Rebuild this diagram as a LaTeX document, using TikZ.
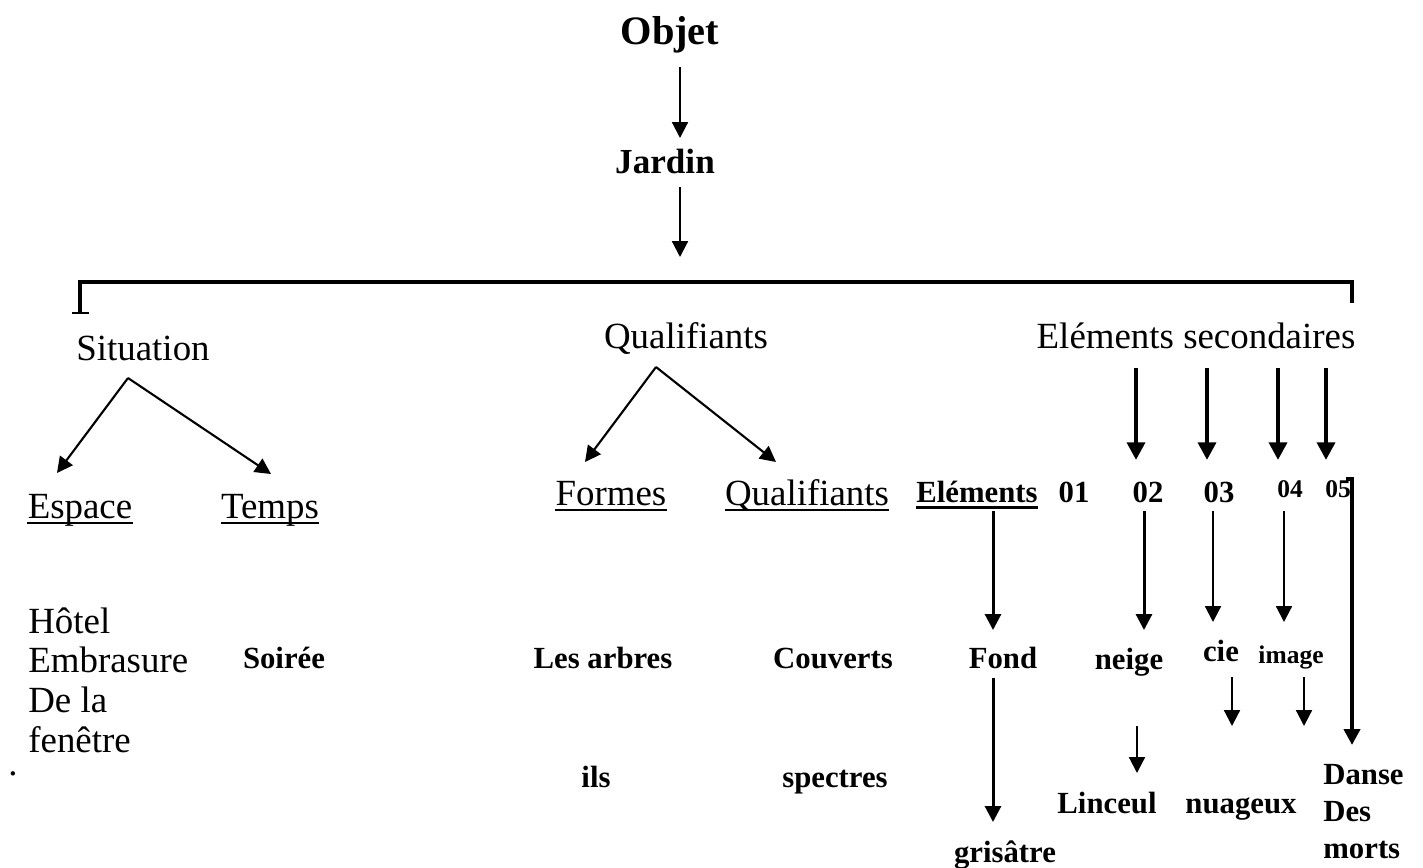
\documentclass[tikz,border=0pt]{standalone}
\usepackage{fontspec}
\setmainfont{Liberation Serif}
\usetikzlibrary{arrows.meta,calc}

\tikzset{
  txt/.style={inner sep=0pt, anchor=base, font=\fontsize{21}{25}\selectfont},
  btxt/.style={inner sep=0pt, anchor=base, font=\fontsize{17.5}{21}\selectfont\bfseries},
  stxt/.style={inner sep=0pt, anchor=base, font=\fontsize{14.5}{17}\selectfont\bfseries},
  arr/.style={->, line width=1.2pt},
  arrmid/.style={->, line width=1.7pt},
  arrbold/.style={->, >={Triangle[length=10pt, width=10pt]}, line width=2.5pt},
  uline/.style={line width=0.9pt}
}

\begin{document}
\begin{tikzpicture}[x=0.02cm, y=-0.02cm, >={Triangle[length=9pt, width=9pt]}]
            \useasboundingbox (0,0) rectangle (1423,867);

            % top of the tree
            \node[btxt, font=\fontsize{23}{27}\selectfont\bfseries] (objet) at (670,44) {Objet};
            \node[btxt, font=\fontsize{20}{24}\selectfont\bfseries] (jardin) at (665,173) {Jardin};
            \coordinate (brl) at (80,282);
            \coordinate (brr) at (1352,282);

            % three branches
            \node[txt] (situation) at (143,360) {Situation};
            \node[txt] (qualif) at (686,348) {Qualifiants};
            \node[txt] (secondaires) at (1196,348) {Eléments secondaires};

            \node[txt] (espace) at (80,518) {Espace};
            \node[txt] (temps) at (270,518) {Temps};
            \node[txt] (formes) at (611,505) {Formes};
            \node[txt] (qualifs) at (807,505) {Qualifiants};
            \node[btxt] (elements) at (977,502) {Eléments};
            \node[btxt] (n01) at (1074,502) {01};
            \node[btxt] (n02) at (1148,502) {02};
            \node[btxt] (n03) at (1219,502) {03};
            \node[stxt] (n04) at (1290,497) {04};
            \node[stxt] (n05) at (1338,497) {05};

            % leaves
            \node[txt, anchor=north west, align=left, font=\fontsize{21}{22.7}\selectfont] (hotel) at (28,607) {Hôtel\\Embrasure\\De la\\fenêtre};
            \node[txt] (dot) at (13,775) {.};
            \node[btxt] (soiree) at (284,668) {Soirée};
            \node[btxt] (arbres) at (603,668) {Les arbres};
            \node[btxt] (couverts) at (833,668) {Couverts};
            \node[btxt] (ils) at (596,787) {ils};
            \node[btxt] (spectres) at (835,787) {spectres};
            \node[btxt] (fond) at (1003,668) {Fond};
            \node[btxt] (neige) at (1129,669) {neige};
            \node[btxt] (cie) at (1221,661) {cie};
            \node[stxt] (image) at (1291,663) {image};
            \node[btxt] (linceul) at (1107,813) {Linceul};
            \node[btxt] (nuageux) at (1241,813) {nuageux};
            \node[btxt, anchor=north west, align=left, font=\fontsize{17.5}{21}\selectfont\bfseries] (danse) at (1323,764) {Danse\\Des\\morts};
            \node[btxt] (grisatre) at (1005,862) {grisâtre};

            % underlines
            \foreach \n in {espace,temps,formes,qualifs}
                \draw[uline] ([yshift=-3pt]\n.base west) -- ([yshift=-3pt]\n.base east);
            \draw[line width=2pt] ([yshift=-3pt]elements.base west) -- ([yshift=-3pt]elements.base east);

            % bracket
            \draw[line width=2.3pt] ($(brl)+(0,31)$) -- (brl) -- (brr) -- ($(brr)+(0,21)$);
            \draw[line width=1.2pt] ($(brl)+(-8,31)$) -- ($(brl)+(9,31)$);

            \draw[arr] ($(objet.base)+(10,23)$) -- ($(jardin.base)+(15,-35)$);
            \draw[arr] ($(jardin.base)+(15,14)$) -- ($(jardin.base)+(15,84)$);

            \draw[arr] ($(situation.base)+(-15,18)$) -- ($(espace.base)+(-23,-45)$);
            \draw[arr] ($(situation.base)+(-15,18)$) -- ($(temps.base)+(1,-44)$);
            \draw[arr] ($(qualif.base)+(-30,19)$) -- ($(formes.base)+(-26,-43)$);
            \draw[arr] ($(qualif.base)+(-30,19)$) -- ($(qualifs.base)+(-31,-43)$);

            \foreach \n/\d in {n02/42,n03/42,n04/37,n05/37}
                \draw[arrbold] ($(secondaires.base -| \n.base)+(-12,20)$) -- ($(\n.base)+(-12,-\d)$);

            \draw[arrmid] ($(elements.base)+(16,9)$) -- ($(fond.base)+(-10,-38)$);
            \draw[arrmid] ($(n02.base)+(-4,9)$) -- ($(neige.base)+(15,-39)$);
            \draw[arr] ($(n03.base)+(-6,9)$) -- ($(cie.base)+(-8,-39)$);
            \draw[arr] ($(n04.base)+(-6,14)$) -- ($(image.base)+(-7,-41)$);
            \draw[arrbold, >={Triangle[length=9pt, width=9pt]}] ($(n05.base)+(8,-18)$) -- ($(n05.base)+(14,-18)$) -- ($(danse.north west)+(29,-19)$);

            \draw[arrmid] ($(fond.base)+(-10,10)$) -- ($(grisatre.base)+(-12,-40)$);
            \draw[arr] ($(cie.base)+(11,16)$) -- ($(cie.base)+(11,65)$);
            \draw[arr] ($(image.base)+(13,14)$) -- ($(image.base)+(13,63)$);
            \draw[arr] ($(linceul.base)+(30,-87)$) -- ($(linceul.base)+(30,-40)$);
        \end{tikzpicture}
\end{document}
